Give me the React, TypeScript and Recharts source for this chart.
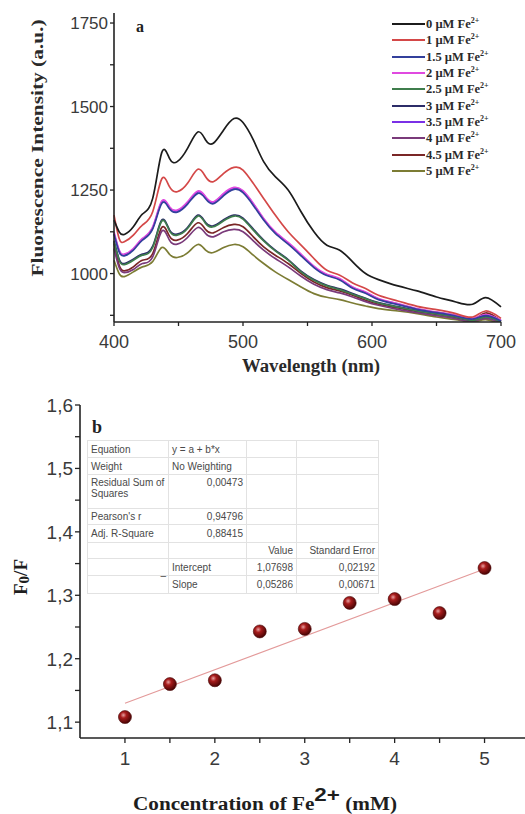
import React from 'react'
import {
  LineChart, Line, XAxis, YAxis, Legend,
  ComposedChart, Scatter,
} from 'recharts'

// ---- panel a: emission spectra ----
const wavelengths = [400, 404, 408, 415, 422, 430, 437, 443, 449, 457, 465, 471, 477, 485, 493, 500, 508, 516, 525, 535, 545, 555, 565, 575, 585, 595, 605, 620, 635, 650, 665, 678, 688, 700]

const fe0 = [1160, 1125, 1117, 1140, 1178, 1225, 1362, 1345, 1335, 1375, 1424, 1400, 1390, 1430, 1464, 1452, 1400, 1335, 1290, 1250, 1185, 1125, 1085, 1070, 1035, 1000, 982, 963, 948, 930, 915, 908, 928, 900]
const fe1 = [1175, 1105, 1095, 1115, 1145, 1185, 1283, 1260, 1245, 1270, 1312, 1290, 1275, 1300, 1318, 1310, 1270, 1225, 1175, 1125, 1085, 1045, 1010, 995, 972, 955, 935, 918, 902, 892, 880, 870, 888, 866]
const fe15 = [1118, 1065, 1053, 1070, 1100, 1134, 1210, 1194, 1184, 1208, 1240, 1224, 1209, 1233, 1252, 1242, 1204, 1160, 1120, 1088, 1053, 1018, 994, 981, 956, 941, 922, 907, 893, 883, 873, 864, 874, 858]
const fe2 = [1125, 1070, 1058, 1075, 1105, 1140, 1217, 1200, 1190, 1215, 1247, 1230, 1215, 1240, 1258, 1248, 1210, 1165, 1125, 1093, 1058, 1022, 998, 985, 960, 945, 925, 910, 895, 885, 875, 866, 877, 860]
const fe25 = [1095, 1040, 1027, 1040, 1055, 1078, 1157, 1128, 1115, 1135, 1172, 1150, 1140, 1158, 1172, 1163, 1130, 1098, 1068, 1040, 1005, 980, 963, 952, 938, 925, 912, 900, 888, 879, 870, 860, 870, 855]
const fe3 = [1098, 1043, 1030, 1043, 1058, 1082, 1160, 1131, 1118, 1138, 1175, 1153, 1143, 1161, 1175, 1166, 1133, 1100, 1070, 1042, 1007, 982, 965, 954, 940, 926, 913, 901, 889, 880, 871, 861, 871, 856]
const fe35 = [1120, 1068, 1056, 1073, 1103, 1137, 1214, 1198, 1188, 1212, 1244, 1228, 1213, 1238, 1256, 1246, 1208, 1163, 1123, 1091, 1056, 1020, 996, 983, 958, 943, 924, 909, 894, 884, 874, 865, 876, 859]
const fe4 = [1075, 1018, 1003, 1012, 1030, 1050, 1127, 1100, 1088, 1108, 1138, 1120, 1110, 1125, 1132, 1125, 1098, 1070, 1045, 1020, 992, 968, 952, 942, 930, 916, 905, 893, 883, 874, 865, 857, 866, 852]
const fe45 = [1090, 1025, 1008, 1020, 1040, 1060, 1138, 1112, 1100, 1120, 1152, 1132, 1122, 1138, 1147, 1140, 1110, 1080, 1055, 1030, 1000, 975, 958, 948, 935, 920, 908, 897, 886, 878, 868, 860, 882, 858]
const fe5 = [1040, 1000, 991, 1005, 1020, 1036, 1078, 1058, 1048, 1062, 1087, 1070, 1063, 1078, 1087, 1080, 1055, 1030, 1005, 982, 960, 940, 929, 922, 912, 903, 895, 888, 880, 870, 862, 855, 862, 848]

const concLabels = ['0', '1', '1.5', '2', '2.5', '3', '3.5', '4', '4.5', '5']
const spectra = [fe0, fe1, fe15, fe2, fe25, fe3, fe35, fe4, fe45, fe5]
const lineColors = ['#1c1c1c', '#d44848', '#33409c', '#e04ae0', '#3f7d4c', '#2c2c68', '#7a30e6', '#7a3a7a', '#7a2626', '#7c7c34']

const spectraTicksX = [400, 450, 500, 550, 600, 650, 700]
const spectraTicksY = [875, 1000, 1125, 1250, 1375, 1500, 1625, 1750]

// ---- panel b: Stern-Volmer ----
const concX = [1, 1.5, 2, 2.5, 3, 3.5, 4, 4.5, 5]
const f0OverF = [1.108, 1.16, 1.166, 1.243, 1.247, 1.288, 1.294, 1.272, 1.343]
const fitX = [1, 5]
const fitY = [1.1298, 1.3413]

const svTicksX = [1, 1.5, 2, 2.5, 3, 3.5, 4, 4.5, 5]
const svTicksY = [1.1, 1.15, 1.2, 1.25, 1.3, 1.35, 1.4, 1.45, 1.5, 1.55, 1.6]

const fitTable = [
  ['Equation', 'y = a + b*x', '', ''],
  ['Weight', 'No Weighting', '', ''],
  ['Residual Sum of Squares', '0,00473', '', ''],
  ["Pearson's r", '0,94796', '', ''],
  ['Adj. R-Square', '0,88415', '', ''],
  ['', '', 'Value', 'Standard Error'],
  ['', 'Intercept', '1,07698', '0,02192'],
  ['', 'Slope', '0,05286', '0,00671'],
]
const rowHeights = [17, 17, 34, 16, 18, 16, 17, 18]
const colWidths = [81, 78, 50, 82]

const serif = '"Liberation Serif", "Times New Roman", serif'
const sans = '"Liberation Sans", Arial, sans-serif'

const spectraData = wavelengths.map((w, i) => {
  const row: Record<string, number> = { w }
  spectra.forEach((s, k) => { row['s' + k] = s[i] })
  return row
})
const svData = concX.map((x, i) => ({ x, y: f0OverF[i] }))
const fitData = fitX.map((x, i) => ({ x, y: fitY[i] }))

const isMajor = (v: number, step: number) => Math.abs(v / step - Math.round(v / step)) < 1e-6

const YTick = ({ x, y, payload, step, fmt, fontSize }: any) => {
  if (!isMajor(payload.value, step)) return null
  return (
    <text x={x} y={y} dy="0.36em" textAnchor="end" fontFamily={sans} fontSize={fontSize} fill="#3a3a3a">
      {fmt(payload.value)}
    </text>
  )
}

const XTick = ({ x, y, payload, step, fontSize, dy }: any) => {
  if (!isMajor(payload.value, step)) return null
  return (
    <text x={x} y={y} dy={dy} textAnchor="middle" fontFamily={sans} fontSize={fontSize} fill="#3a3a3a">
      {payload.value}
    </text>
  )
}

const SpectraLegend = () => (
  <div style={{ fontFamily: serif, fontWeight: 'bold', fontSize: 12.5, color: '#2a2a2a' }}>
    {concLabels.map((c, i) => (
      <div key={c} style={{ display: 'flex', alignItems: 'center', height: 16.3, lineHeight: '16px' }}>
        <span style={{ width: 33, height: 2, background: lineColors[i], marginRight: 1 }} />
        <span>
          {c} µM Fe<sup style={{ fontSize: 8, verticalAlign: 5, lineHeight: 0 }}>2+</sup>
        </span>
      </div>
    ))}
  </div>
)

const Ball = ({ cx, cy }: any) => (
  <circle cx={cx} cy={cy} r={6.5} fill="url(#ballFill)" stroke="#4a0606" strokeWidth={0.6} />
)

const axisLine = { stroke: '#222', strokeWidth: 1.6 }
const tickLine = { stroke: '#222', strokeWidth: 1.3 }

function SpectraChart() {
  return (
    <LineChart width={525} height={380} data={spectraData} margin={{ top: 13, right: 24, left: 0, bottom: 0 }}>
      <XAxis
        dataKey="w" type="number" domain={[400, 700]} ticks={spectraTicksX}
        axisLine={axisLine} tickLine={tickLine} tickSize={4} height={58}
        tick={<XTick step={100} fontSize={18} dy={20} />}
        label={{
          content: () => (
            <text x={311} y={372} textAnchor="middle" fontFamily={serif} fontWeight="bold" fontSize={18} fill="#2a2a2a" textLength={138} lengthAdjust="spacingAndGlyphs">
              Wavelength (nm)
            </text>
          ),
        }}
      />
      <YAxis
        type="number" domain={[855, 1780]} allowDataOverflow ticks={spectraTicksY}
        axisLine={axisLine} tickLine={tickLine} tickSize={4} width={114}
        tick={<YTick step={250} fmt={(v: number) => String(v)} fontSize={17} />}
        label={{
          content: () => (
            <text transform="translate(43,148) rotate(-90)" textAnchor="middle" fontFamily={serif} fontWeight="bold" fontSize={17} fill="#2a2a2a" textLength={257} lengthAdjust="spacingAndGlyphs">
              Fluorescence Intensity (a.u.)
            </text>
          ),
        }}
      />
      {spectra.map((_, k) => (
        <Line
          key={k} dataKey={'s' + k} type="natural" stroke={lineColors[k]}
          strokeWidth={1.7} dot={false} isAnimationActive={false}
        />
      )).reverse()}
      <text x={136} y={32} fontFamily={serif} fontWeight="bold" fontSize={16} fill="#222">a</text>
      <Legend
        layout="vertical" align="center" verticalAlign="middle"
        wrapperStyle={{ left: 392, top: 16, width: 133 }}
        content={<SpectraLegend />}
      />
    </LineChart>
  )
}

function SternVolmerChart() {
  return (
    <ComposedChart width={525} height={434} margin={{ top: 25, right: 0, left: 0, bottom: 0 }}>
      <defs>
        <radialGradient id="ballFill" cx="38%" cy="35%" r="65%">
          <stop offset="0%" stopColor="#e8a0a0" />
          <stop offset="35%" stopColor="#a81c1c" />
          <stop offset="100%" stopColor="#4a0404" />
        </radialGradient>
      </defs>
      <XAxis
        dataKey="x" type="number" domain={[0.5, 5.45]} ticks={svTicksX} allowDataOverflow
        axisLine={axisLine} tickLine={tickLine} tickSize={5} height={76}
        tick={<XTick step={1} fontSize={19} dy={20} />}
        label={{
          content: () => (
            <text x={265} y={430} textAnchor="middle" fontFamily={serif} fontWeight="bold" fontSize={18} fill="#1e1e1e" textLength={264} lengthAdjust="spacingAndGlyphs">
              Concentration of Fe
              <tspan fontFamily={sans} fontSize={19} dy={-9}>2+</tspan>
              <tspan dy={9}> (mM)</tspan>
            </text>
          ),
        }}
      />
      <YAxis
        dataKey="y" type="number" domain={[1.075, 1.6]} ticks={svTicksY} allowDataOverflow
        axisLine={axisLine} tickLine={tickLine} tickSize={5} width={80}
        tick={<YTick step={0.1} fmt={(v: number) => v.toFixed(1).replace('.', ',')} fontSize={19} />}
        label={{
          content: () => (
            <text transform="translate(27,197) rotate(-90)" textAnchor="middle" fontFamily={serif} fontWeight="bold" fontSize={19} fill="#1e1e1e">
              F<tspan fontSize={15} dy={2}>0</tspan><tspan dy={-2}>/F</tspan>
            </text>
          ),
        }}
      />
      <Scatter
        data={fitData} dataKey="y" line={{ stroke: '#e39a9a', strokeWidth: 1.1 }}
        shape={() => <g />} isAnimationActive={false}
      />
      <Scatter data={svData} dataKey="y" shape={<Ball />} isAnimationActive={false} />
      <text x={92} y={53} fontFamily={serif} fontWeight="bold" fontSize={18} fill="#222">b</text>
    </ComposedChart>
  )
}

function FitTable() {
  return (
    <table
      style={{
        position: 'absolute', left: 87, top: 60, borderCollapse: 'collapse',
        border: '1px solid #9a9a9a', background: '#fff', tableLayout: 'fixed',
        fontFamily: sans, fontSize: 10, color: '#4a4a4a', lineHeight: '11px',
      }}
    >
      <colgroup>
        {colWidths.map((w, i) => <col key={i} style={{ width: w }} />)}
      </colgroup>
      <tbody>
        {fitTable.map((row, r) => (
          <tr key={r} style={{ height: rowHeights[r] }}>
            {row.map((cell, c) => (
              <td
                key={c}
                style={{
                  border: '1px solid #e2e2e2', padding: r === 2 ? '2px 3px 0' : '0 3px',
                  textAlign: c === 0 || (c === 1 && r < 2) || (c === 1 && r > 5) ? 'left' : 'right',
                  verticalAlign: r === 2 ? 'top' : 'middle',
                  whiteSpace: c === 0 && r === 2 ? 'normal' : 'nowrap',
                  position: 'relative',
                }}
              >
                {cell}
                {c === 0 && r === 6 && (
                  <span style={{ position: 'absolute', right: 2, top: 11 }}>–</span>
                )}
              </td>
            ))}
          </tr>
        ))}
      </tbody>
    </table>
  )
}

export default function App() {
  return (
    <div style={{ position: 'relative', width: 525, height: 814, background: '#fff' }}>
      <style>{'body{margin:0}'}</style>
      <div style={{ position: 'absolute', left: 0, top: 0 }}>
        <SpectraChart />
      </div>
      <div style={{ position: 'absolute', left: 0, top: 380 }}>
        <SternVolmerChart />
        <FitTable />
      </div>
    </div>
  )
}
